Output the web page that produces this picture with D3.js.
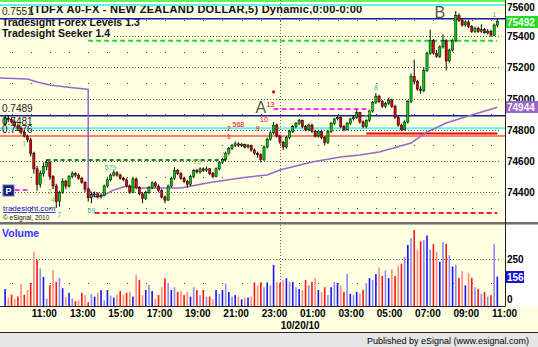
<!DOCTYPE html>
<html><head><meta charset="utf-8">
<script src="https://cdn.jsdelivr.net/npm/d3@7/dist/d3.min.js"></script>
<style>
html,body{margin:0;padding:0;background:#fff;}
svg{display:block;}
text{font-family:"Liberation Sans",Arial,Helvetica,sans-serif;}
</style></head><body>
<svg id="chart" width="538" height="347"></svg>
<script>
// ---------------- DATA ----------------
const firstBar = "2010-10-19 08:40"; // 10-minute bars
const opens = [74840,74875,74865,74850,74825,74810,74785,74760,74735,74650,
74550,74450,74520,74565,74590,74500,74440,74340,74400,74470,
74440,74500,74520,74510,74490,74465,74420,74365,74385,74390,
74370,74380,74440,74480,74510,74525,74510,74490,74480,74440,
74400,74485,74430,74390,74360,74400,74430,74460,74440,74410,
74370,74350,74440,74490,74540,74520,74490,74470,74450,74500,
74540,74530,74550,74540,74550,74520,74500,74550,74590,74610,
74650,74680,74700,74710,74700,74705,74690,74700,74670,74650,
74640,74610,74690,74740,74780,74830,74760,74720,74690,74750,
74790,74820,74840,74860,74820,74800,74830,74790,74760,74790,
74750,74720,74790,74840,74870,74880,74820,74800,74840,74870,
74880,74910,74850,74820,74860,74920,74975,75015,74980,74950,
74970,74990,74950,74880,74830,74800,74850,74980,75140,75110,
75060,75050,75180,75290,75370,75290,75270,75330,75370,75240,
75310,75370,75530,75500,75470,75490,75460,75430,75450,75430,
75440,75420,75430,75405,75470];
const highs = [74890,74890,74875,74860,74840,74820,74795,74770,74750,74660,
74570,74540,74590,74610,74600,74510,74455,74410,74490,74480,
74510,74535,74530,74520,74500,74470,74430,74400,74405,74400,
74395,74450,74490,74520,74540,74535,74520,74500,74490,74450,
74500,74495,74440,74400,74410,74440,74470,74470,74450,74420,
74380,74450,74500,74560,74550,74530,74500,74480,74510,74550,
74550,74560,74560,74565,74555,74530,74560,74600,74620,74660,
74690,74710,74725,74720,74715,74710,74710,74705,74680,74660,
74650,74700,74750,74790,74850,74840,74770,74730,74760,74800,
74830,74850,74870,74865,74830,74840,74840,74800,74800,74800,
74760,74800,74850,74875,74890,74885,74830,74850,74875,74890,
74930,74915,74860,74870,74925,74985,75035,75025,74990,74980,
75005,75000,74960,74890,74840,74860,74990,75160,75250,75120,
75080,75200,75300,75440,75380,75310,75340,75410,75380,75320,
75380,75560,75545,75510,75500,75500,75470,75460,75460,75475,
75450,75445,75440,75480,75510];
const lows = [74830,74850,74840,74815,74800,74770,74750,74720,74630,74520,
74410,74430,74500,74540,74480,74420,74300,74310,74390,74420,
74430,74490,74495,74480,74455,74400,74340,74330,74370,74360,
74360,74375,74430,74470,74500,74500,74480,74470,74430,74390,
74395,74420,74380,74330,74350,74390,74420,74430,74400,74360,
74330,74345,74430,74480,74510,74480,74460,74430,74440,74490,
74520,74520,74530,74530,74510,74490,74495,74540,74580,74600,
74640,74670,74690,74690,74690,74680,74680,74660,74640,74620,
74590,74600,74680,74730,74770,74750,74710,74670,74680,74740,
74780,74810,74830,74810,74790,74790,74780,74750,74750,74740,
74700,74710,74780,74830,74860,74810,74790,74795,74830,74860,
74870,74840,74810,74810,74850,74910,74965,74970,74940,74940,
74960,74940,74870,74820,74790,74795,74840,74970,75090,75050,
75030,75040,75170,75280,75280,75260,75260,75320,75180,75230,
75300,75360,75490,75460,75460,75450,75420,75420,75420,75420,
75415,75410,75395,75400,75455];
const closes = [74875,74865,74850,74825,74810,74785,74760,74735,74650,74550,
74450,74520,74565,74590,74500,74440,74340,74400,74470,74440,
74500,74520,74510,74490,74465,74420,74365,74385,74390,74370,
74380,74440,74480,74510,74525,74510,74490,74480,74440,74400,
74485,74430,74390,74360,74400,74430,74460,74440,74410,74370,
74350,74440,74490,74540,74520,74490,74470,74450,74500,74540,
74530,74550,74540,74550,74520,74500,74550,74590,74610,74650,
74680,74700,74710,74700,74705,74690,74700,74670,74650,74640,
74610,74690,74740,74780,74830,74760,74720,74690,74750,74790,
74820,74840,74860,74820,74800,74830,74790,74760,74790,74750,
74720,74790,74840,74870,74880,74820,74800,74840,74870,74880,
74910,74850,74820,74860,74920,74975,75015,74980,74950,74970,
74990,74950,74880,74830,74800,74850,74980,75140,75110,75060,
75050,75180,75290,75370,75290,75270,75330,75370,75240,75310,
75370,75530,75500,75470,75490,75460,75430,75450,75430,75440,
75420,75430,75405,75470,75492];
const volumes = [90,45,60,40,50,117,60,85,122,287,
245,200,155,40,110,190,128,150,95,48,
70,40,25,30,70,58,20,63,50,70,
85,30,85,55,45,60,80,60,70,75,
50,165,138,58,85,112,80,40,58,100,
148,122,85,100,75,80,58,75,50,100,
85,58,85,50,50,35,85,65,85,120,
75,50,58,50,35,45,45,50,125,110,
125,100,125,110,218,128,122,138,148,128,
128,100,90,85,138,110,128,148,85,75,
100,58,100,128,122,110,75,170,65,58,
75,65,85,122,148,138,170,205,160,190,
148,195,160,215,225,262,325,360,404,300,
345,350,375,300,330,288,235,340,330,270,
210,220,150,185,110,175,150,100,90,65,
75,50,58,330,156];

// moving average (bar index, value)
const maBars   = [-2,7,10,14,19,25,26,26,28,31,34,38,42,48,55,65,76,82,86,96,105,111,117,127,132,138,146,154];
const maValues = [75131,75125,75106,75087,75074,75061,75058,74427,74370,74383,74415,74440,74427,74427,74427,74466,74498,74511,74543,74594,74626,74639,74658,74715,74786,74843,74895,74944];

// Tradesight levels
const levelPrices = [75624,75598,75510,75370,74933,74890,74810,74776,74760,74607,74415,74268];
const levelKinds  = ["lime","cyan","blue","greenDash","magDash","blue","cyan","red","salmon","dkGreenDash","magDash","redDash"];
const levelFrom   = [null,null,null,26,84,null,null,113,null,13,3,28];
const levelTo     = [null,null,null,154,113,null,null,154,null,69,7,154];
const levelLabels = ["0.7560","","0.7551","","","0.7489","0.7481","","0.7476","","",""];

// Seeker markers
const markerText  = ["13","10","2","568","9","1","13","19","579","7","69","1","2","4","8","1","1","2","3","A","B"];
const markerBar   = [83,81,70,73,79,70,60,69,33,17,27,6,14,15,116,153,113,114,115,80,136];
const markerPrice = [74946,74850,74792,74818,74792,74741,74581,74628,74543,74242,74267,74696,74389,74338,75054,75522,74863,74901,74927,74907,75515];
const markerKind  = ["sell","sell","sell","sell","sell","sell","buy","buy","teal","teal","teal","buy","buy","buy","teal","teal","buy","buy","buy","wave","wave"];
const dotBars = [84], dotPrices = [75042];

const priceTicks = [75600,75400,75200,75000,74800,74600,74400];
const priceMinor = [75500,75300,75100,74900,74700,74500,74300];
const volTicks = [250,0];
const timeTicks = ["2010-10-19 11:00","2010-10-19 13:00","2010-10-19 15:00","2010-10-19 17:00","2010-10-19 19:00","2010-10-19 21:00","2010-10-19 23:00",
"2010-10-20 01:00","2010-10-20 03:00","2010-10-20 05:00","2010-10-20 07:00","2010-10-20 09:00","2010-10-20 11:00"];
const daySeparator = "2010-10-19 23:00";
const dateLabel = "2010-10-20 00:00";

// ---------------- CHART ----------------
const svg = d3.select("#chart");
const FONT = '"Liberation Sans",Arial,Helvetica,sans-serif';
const cream = "#FFFFE1";
const parseT = d3.timeParse("%Y-%m-%d %H:%M");
const t0 = parseT(firstBar);
const barTime = i => new Date(+t0 + i*600000);

const x = d3.scaleTime().domain([parseT("2010-10-19 08:24"), parseT("2010-10-20 10:44")]).range([0,505]);
const yP = d3.scaleLinear().domain([74400,75400]).range([192.3,36]);
const yV = d3.scaleLinear().domain([0,250]).range([306,259]);
const xb = i => x(barTime(i));

function rect(g,x0,y0,w,h,f){return g.append("rect").attr("x",x0).attr("y",y0).attr("width",w).attr("height",h).attr("fill",f);}

// backgrounds
rect(svg,0,0,538,347,cream);
rect(svg,506,0,32,306,"#FFFFFF");

const defs = svg.append("defs");
defs.append("clipPath").attr("id","pclip").append("rect").attr("x",0).attr("y",0).attr("width",505).attr("height",222);
defs.append("clipPath").attr("id","vclip").append("rect").attr("x",0).attr("y",225).attr("width",505).attr("height",81);

const gP = svg.append("g").attr("clip-path","url(#pclip)");
const gV = svg.append("g").attr("clip-path","url(#vclip)");

// grid
const hours = d3.timeHour.range(parseT("2010-10-19 09:00"), parseT("2010-10-20 10:30"));
priceTicks.forEach(v=>{
  const yy = Math.round(yP(v))+0.5;
  gP.append("line").attr("x1",0).attr("x2",500).attr("y1",yy).attr("y2",yy)
    .attr("stroke","#555").attr("stroke-dasharray","1,2");
});
priceMinor.forEach(v=>{
  hours.forEach(h=>{ rect(gP,Math.round(x(h)),Math.round(yP(v)),1,1,"#444"); });
});
{
  const yy = Math.round(yV(250))+0.5;
  gV.append("line").attr("x1",0).attr("x2",500).attr("y1",yy).attr("y2",yy).attr("stroke","#555").attr("stroke-dasharray","1,2");
  hours.forEach(h=>{ rect(gV,Math.round(x(h)),Math.round(yV(125)),1,1,"#444"); });
}
const xs = Math.round(x(parseT(daySeparator)))+0.5;
svg.append("line").attr("x1",xs).attr("x2",xs).attr("y1",0).attr("y2",306).attr("stroke","#666").attr("stroke-dasharray","1,2");

// titles
gP.append("text").attr("x",30).attr("y",13).attr("font-size",11).attr("letter-spacing",0.25).attr("font-weight","bold").attr("fill","#111")
  .text("(TDFX A0-FX - NEW ZEALAND DOLLAR,5) Dynamic,0:00-0:00");
gP.append("text").attr("x",2).attr("y",26).attr("font-size",10.5).attr("font-weight","bold").attr("fill","#111")
  .text("Tradesight Forex Levels 1.3");
rect(gP,0,28,113,11,cream);
gP.append("text").attr("x",2).attr("y",37).attr("font-size",10.5).attr("font-weight","bold").attr("fill","#111")
  .text("Tradesight Seeker 1.4");

// levels
const levelStyle = {
  lime:{c:"#33EE33",w:1.5,d:null},
  cyan:{c:"#66F0F0",w:2,d:null},
  blue:{c:"#1818A8",w:1.4,d:null},
  greenDash:{c:"#22DD22",w:2,d:"5,3"},
  magDash:{c:"#FF33FF",w:2,d:"5,3"},
  red:{c:"#EE0000",w:2,d:null},
  salmon:{c:"#FF5555",w:1.4,d:null},
  dkGreenDash:{c:"#1E8A1E",w:2,d:"4,3"},
  redDash:{c:"#EE2222",w:2,d:"5,3"}
};
levelPrices.forEach((p,i)=>{
  const s = levelStyle[levelKinds[i]];
  const x1 = levelFrom[i]===null ? 0 : xb(levelFrom[i]);
  const x2 = levelTo[i]===null ? 505 : xb(levelTo[i]);
  const yy = yP(p);
  const ln = gP.append("line").attr("x1",x1).attr("x2",x2).attr("y1",yy).attr("y2",yy)
    .attr("stroke",s.c).attr("stroke-width",s.w);
  if(s.d) ln.attr("stroke-dasharray",s.d);
  if(levelLabels[i]) gP.append("text").attr("x",2).attr("y",yy-3.5).attr("font-size",10).attr("fill","#222").text(levelLabels[i]);
});

// moving average
gP.append("path").datum(maBars.map((b,i)=>[b,maValues[i]]))
  .attr("fill","none").attr("stroke","#9966CC").attr("stroke-width",1.5)
  .attr("d", d3.line().x(d=>xb(d[0])).y(d=>yP(d[1])));

// candles
const cg = gP.append("g");
opens.forEach((o,i)=>{
  const c = closes[i], cx = xb(i);
  cg.append("line").attr("x1",cx).attr("x2",cx).attr("y1",yP(highs[i])).attr("y2",yP(lows[i])).attr("stroke","#000").attr("stroke-width",1);
  const top = yP(Math.max(o,c)), bot = yP(Math.min(o,c));
  cg.append("rect").attr("x",cx-1.1).attr("y",top).attr("width",2.2).attr("height",Math.max(1,bot-top))
    .attr("fill", c>=o ? "#00CC00" : "#DD0000").attr("stroke","#000").attr("stroke-width",0.5);
});

// markers
const markerColor = {sell:"#E00000",buy:"#8CC63E",teal:"#3DB59A",wave:"#555"};
markerText.forEach((t,i)=>{
  const k = markerKind[i];
  gP.append("text").attr("x",xb(markerBar[i])).attr("y",yP(markerPrice[i]))
    .attr("text-anchor","middle").attr("font-size",k==="wave"?16:7).attr("fill",markerColor[k]).text(t);
});
dotBars.forEach((b,i)=>{
  gP.append("circle").attr("cx",xb(b)).attr("cy",yP(dotPrices[i])).attr("r",1.6).attr("fill","#E00000");
});

// P icon + credits
rect(gP,3,185,11,11,"#14207A").attr("stroke","#6A7AC8").attr("stroke-width",1);
gP.append("text").attr("x",8.5).attr("y",194).attr("text-anchor","middle").attr("font-size",9).attr("font-weight","bold").attr("fill","#fff").text("P");
gP.append("text").attr("x",3).attr("y",211).attr("font-size",8).attr("fill","#1010CC").attr("text-decoration","underline").text("tradesight.com");
gP.append("text").attr("x",3).attr("y",220).attr("font-size",6.5).attr("fill","#111").text("© eSignal, 2010");

// volume bars
volumes.forEach((v,i)=>{
  const up = closes[i]>=opens[i];
  const col = up ? (i%2 ? "#8A8AFF" : "#1414FF") : (i%2 ? "#FF8A8A" : "#FF1414");
  rect(gV, xb(i)-0.8, yV(v), 1.6, 306-yV(v), col);
});
gV.append("text").attr("x",2).attr("y",237).attr("font-size",10.5).attr("font-weight","bold").attr("fill","#3333FF").text("Volume");

// frames
rect(svg,0,222,538,2,"#707070");
rect(svg,0,224,538,1,"#B0B0B0");
svg.append("line").attr("x1",505.5).attr("x2",505.5).attr("y1",0).attr("y2",306).attr("stroke","#222");
svg.append("line").attr("x1",0).attr("x2",505.5).attr("y1",306.5).attr("y2",306.5).attr("stroke","#222");

// price axis
const pAxis = svg.append("g").attr("transform","translate(507,0)")
  .call(d3.axisRight(yP).tickValues(priceTicks).tickSize(0).tickPadding(0).tickFormat(d3.format("d")));
pAxis.select(".domain").remove();
pAxis.selectAll("text").attr("font-family",FONT).attr("font-size",10).attr("font-weight","bold").attr("fill","#000")
  .attr("dy",d=>d===75600?"0.55em":"0.35em");

// volume axis
const vAxis = svg.append("g").attr("transform","translate(507,0)")
  .call(d3.axisRight(yV).tickValues(volTicks).tickSize(0).tickPadding(0));
vAxis.select(".domain").remove();
vAxis.selectAll("text").attr("font-family",FONT).attr("font-size",10).attr("font-weight","bold").attr("fill","#000")
  .attr("dy",d=>d===0?"-0.35em":"0.35em");

// value boxes
function valBox(yc,txt,bg,w){
  rect(svg,506,Math.round(yc-6),w,12,bg);
  svg.append("text").attr("x",507).attr("y",yc+4).attr("font-size",10).attr("font-weight","bold").attr("fill","#fff").text(txt);
}
valBox(yP(closes[closes.length-1]), String(closes[closes.length-1]), "#22DD22", 32);
valBox(yP(maValues[maValues.length-1]), String(maValues[maValues.length-1]), "#9966CC", 32);
valBox(yV(volumes[volumes.length-1]), String(volumes[volumes.length-1]), "#1414E0", 18);

// time axis
const tAxis = svg.append("g").attr("transform","translate(-6,310)")
  .call(d3.axisBottom(x).tickValues(timeTicks.map(parseT)).tickSize(0).tickPadding(0).tickFormat(d3.timeFormat("%H:%M")));
tAxis.select(".domain").remove();
tAxis.selectAll("text").attr("font-family",FONT).attr("font-size",10).attr("font-weight","bold").attr("fill","#000");
svg.append("text").attr("x",x(parseT(dateLabel))+1).attr("y",329).attr("text-anchor","middle")
  .attr("font-size",10).attr("font-weight","bold").attr("fill","#000").text(d3.timeFormat("%m/%d/%y")(parseT(dateLabel)));

// footer
rect(svg,0,333,538,14,"#E6E6E6");
svg.append("line").attr("x1",0).attr("x2",538).attr("y1",332.5).attr("y2",332.5).attr("stroke","#222");
svg.append("text").attr("x",529).attr("y",344).attr("text-anchor","end").attr("font-size",9).attr("fill","#000")
  .text("Published by eSignal (www.esignal.com)");
</script>
</body></html>
